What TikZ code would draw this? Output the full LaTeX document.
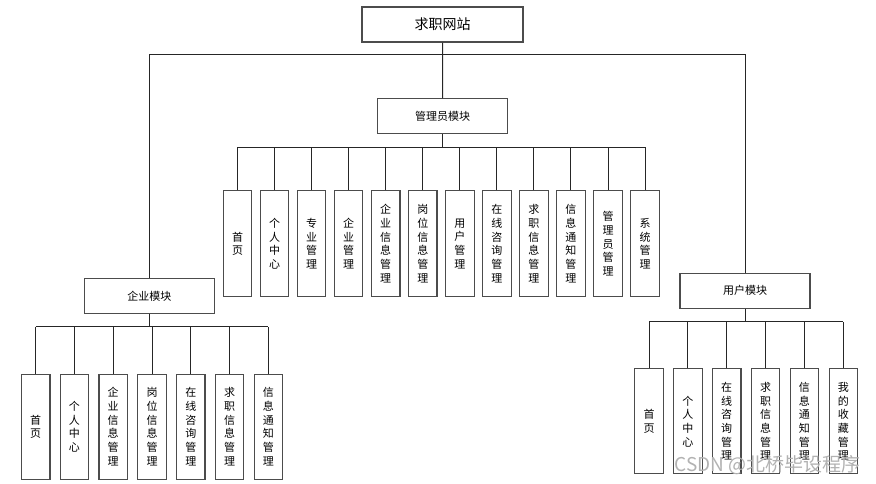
\documentclass[tikz,border=0pt]{standalone}
\usepackage{fontspec}
\newfontfamily\cjk{Noto Sans CJK SC}
\begin{document}
\begin{tikzpicture}[x=1pt,y=-1pt,
  box/.style={draw=black!70, line width=1.1pt, fill=white, inner sep=0pt, font=\cjk\fontsize{11}{13.7}\selectfont},
  modbox/.style={box, minimum width=130pt, minimum height=35pt},
  kid/.style={box, minimum width=28.5pt, minimum height=106pt, align=center},
  conn/.style={draw=black!85, line width=1pt}]
\useasboundingbox (0,0) rectangle (876,484);
\node[box, minimum width=161pt, minimum height=35pt, font=\cjk\fontsize{14}{16}\selectfont] (top) at (442.5,24.5) {求职网站};
\node[modbox] (mgr) at (442.7,116.3) {管理员模块};
\node[modbox] (ent) at (149.3,295.8) {企业模块};
\node[modbox] (usr) at (745,290.8) {用户模块};
\coordinate (bus) at (0,55);
\coordinate (mbus) at (0,147.3);
\coordinate (ebus) at (0,326.7);
\coordinate (ubus) at (0,321.7);
% manager kids
\foreach \t [count=\i] in {首\\页,个\\人\\中\\心,专\\业\\管\\理,企\\业\\管\\理,企\\业\\信\\息\\管\\理,岗\\位\\信\\息\\管\\理,用\\户\\管\\理,在\\线\\咨\\询\\管\\理,求\\职\\信\\息\\管\\理,信\\息\\通\\知\\管\\理,管\\理\\员\\管\\理,系\\统\\管\\理}{
  \node[kid] (m\i) at ({237.5+37.05*(\i-1)},243.7) {\t};
  \draw[conn] (m\i.north) -- (m\i.north |- mbus);
}
\foreach \t [count=\i] in {首\\页,个\\人\\中\\心,企\\业\\信\\息\\管\\理,岗\\位\\信\\息\\管\\理,在\\线\\咨\\询\\管\\理,求\\职\\信\\息\\管\\理,信\\息\\通\\知\\管\\理}{
  \node[kid, minimum height=105pt] (e\i) at ({35.7+38.77*(\i-1)},426.7) {\t};
  \draw[conn] (e\i.north) -- (e\i.north |- ebus);
}
\foreach \t [count=\i] in {首\\页,个\\人\\中\\心,在\\线\\咨\\询\\管\\理,求\\职\\信\\息\\管\\理,信\\息\\通\\知\\管\\理,我\\的\\收\\藏\\管\\理}{
  \node[kid, minimum height=105pt] (u\i) at ({649+38.86*(\i-1)},421.3) {\t};
  \draw[conn] (u\i.north) -- (u\i.north |- ubus);
}
\draw[conn] (top.south) -- (mgr.north);
\draw[conn] (ent.north) -- (ent.north |- bus) -- (usr.north |- bus) -- (usr.north);
\draw[conn] (mgr.south) -- (mgr.south |- mbus);
\draw[conn] (m1.north |- mbus) -- (m12.north |- mbus);
\draw[conn] (ent.south) -- (ent.south |- ebus);
\draw[conn] (e1.north |- ebus) -- (e7.north |- ebus);
\draw[conn] (usr.south) -- (usr.south |- ubus);
\draw[conn] (u1.north |- ubus) -- (u6.north |- ubus);
\node[text=black!30, font=\cjk\fontsize{19}{21}\selectfont, anchor=east, inner sep=0pt] (wm) at (861,465) {CSDN @北桥毕设程序};
\end{tikzpicture}
\end{document}
